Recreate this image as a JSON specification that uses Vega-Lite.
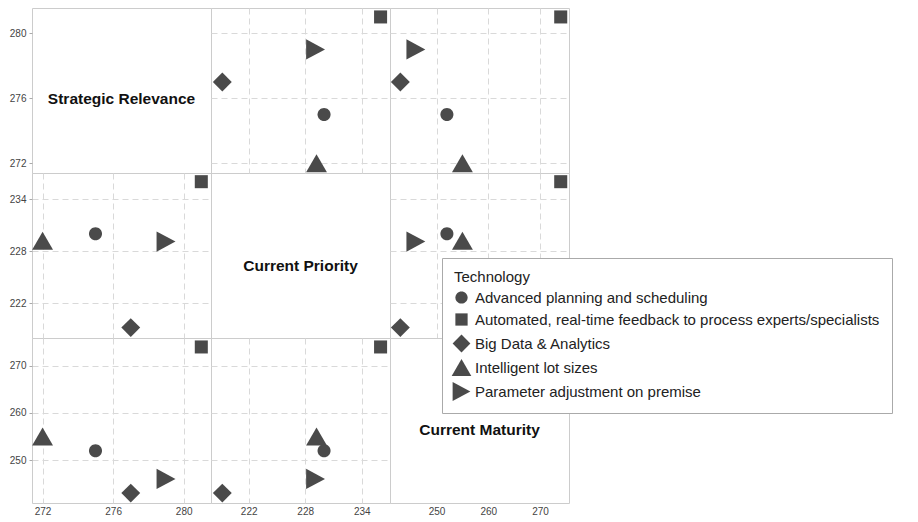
{
  "$schema": "https://vega.github.io/schema/vega-lite/v6.json",
  "padding": {"left": 8, "top": 7, "right": 0, "bottom": 0},
  "spacing": 0,
  "bounds": "flush",
  "columns": 3,
  "datasets": {
    "tech": [
      {"Technology": "Advanced planning and scheduling", "SR": 275, "CP": 230, "CM": 252},
      {"Technology": "Automated, real-time feedback to process experts/specialists", "SR": 281, "CP": 236, "CM": 274},
      {"Technology": "Big Data & Analytics", "SR": 277, "CP": 219.2, "CM": 243},
      {"Technology": "Intelligent lot sizes", "SR": 272, "CP": 229.2, "CM": 255},
      {"Technology": "Parameter adjustment on premise", "SR": 279, "CP": 229.1, "CM": 246}
    ],
    "lab1": [{"label": "Strategic Relevance"}],
    "lab2": [{"label": "Current Priority"}],
    "lab3": [{"label": "Current Maturity"}]
  },
  "config": {
    "view": {"stroke": "#cccccc", "strokeWidth": 1},
    "point": {"filled": true, "opacity": 1, "color": "#4a4a4a", "size": 170},
    "axis": {
      "domain": false,
      "title": null,
      "grid": true,
      "gridColor": "#d9d9d9",
      "gridDash": [6, 4],
      "gridWidth": 1,
      "ticks": false,
      "labels": false,
      "tickColor": "#aaaaaa",
      "tickSize": 3,
      "labelFont": "Liberation Sans",
      "labelFontSize": 10,
      "labelColor": "#444444",
      "labelPadding": 3
    },
    "legend": {
      "orient": "none",
      "legendX": 410,
      "legendY": 250,
      "strokeColor": "#aaaaaa",
      "fillColor": "white",
      "padding": 12,
      "titleFont": "Liberation Sans",
      "titleFontSize": 15,
      "titleFontWeight": "normal",
      "titleColor": "#222222",
      "titlePadding": 5,
      "labelFont": "Liberation Sans",
      "labelFontSize": 15,
      "labelColor": "#222222",
      "labelLimit": 600,
      "labelOffset": 6,
      "rowPadding": 6,
      "symbolSize": 150,
      "symbolFillColor": "#4a4a4a",
      "symbolStrokeWidth": 0
    }
  },
  "concat": [
    {
      "width": 179, "height": 165,
      "layer": [
        {
          "data": {"name": "tech"},
          "mark": {"type": "point", "opacity": 0},
          "encoding": {
            "x": {"field": "SR", "type": "quantitative", "scale": {"domain": [271.4, 281.55], "nice": false, "zero": false}, "axis": null},
            "y": {"field": "SR", "type": "quantitative", "scale": {"domain": [271.4, 281.55], "nice": false, "zero": false}, "axis": {"values": [272, 276, 280], "labels": true, "ticks": true, "grid": false}}
          }
        },
        {
          "data": {"name": "lab1"},
          "mark": {"type": "text", "font": "Liberation Sans", "fontSize": 15.5, "fontWeight": "bold", "color": "#111111", "dy": 8},
          "encoding": {"text": {"field": "label"}}
        }
      ]
    },
    {
      "width": 179, "height": 165,
      "data": {"name": "tech"},
      "mark": {"type": "point"},
      "encoding": {
        "x": {"field": "CP", "type": "quantitative", "scale": {"domain": [218, 237], "nice": false, "zero": false}, "axis": {"values": [222, 228, 234]}},
        "y": {"field": "SR", "type": "quantitative", "scale": {"domain": [271.4, 281.55], "nice": false, "zero": false}, "axis": {"values": [272, 276, 280]}},
        "shape": {"field": "Technology", "type": "nominal", "scale": {"domain": ["Advanced planning and scheduling", "Automated, real-time feedback to process experts/specialists", "Big Data & Analytics", "Intelligent lot sizes", "Parameter adjustment on premise"], "range": ["M1,0A1,1,0,1,1,-1,0A1,1,0,1,1,1,0Z", "M-1,-1H1V1H-1Z", "M-1.45,0L0,-1.45L1.45,0L0,1.45Z", "M0,-1.38L-1.6,1.38L1.6,1.38Z", "M1.45,0L-1.45,-1.55L-1.45,1.55Z"]}}
      }
    },
    {
      "width": 179, "height": 165,
      "data": {"name": "tech"},
      "mark": {"type": "point"},
      "encoding": {
        "x": {"field": "CM", "type": "quantitative", "scale": {"domain": [241, 275.6], "nice": false, "zero": false}, "axis": {"values": [250, 260, 270]}},
        "y": {"field": "SR", "type": "quantitative", "scale": {"domain": [271.4, 281.55], "nice": false, "zero": false}, "axis": {"values": [272, 276, 280]}},
        "shape": {"field": "Technology", "type": "nominal"}
      }
    },
    {
      "width": 179, "height": 165,
      "data": {"name": "tech"},
      "mark": {"type": "point"},
      "encoding": {
        "x": {"field": "SR", "type": "quantitative", "scale": {"domain": [271.4, 281.55], "nice": false, "zero": false}, "axis": {"values": [272, 276, 280]}},
        "y": {"field": "CP", "type": "quantitative", "scale": {"domain": [218, 237], "nice": false, "zero": false}, "axis": {"values": [222, 228, 234], "labels": true, "ticks": true}},
        "shape": {"field": "Technology", "type": "nominal"}
      }
    },
    {
      "width": 179, "height": 165,
      "data": {"name": "lab2"},
      "mark": {"type": "text", "font": "Liberation Sans", "fontSize": 15.5, "fontWeight": "bold", "color": "#111111", "dy": 10},
      "encoding": {"text": {"field": "label"}}
    },
    {
      "width": 179, "height": 165,
      "data": {"name": "tech"},
      "mark": {"type": "point"},
      "encoding": {
        "x": {"field": "CM", "type": "quantitative", "scale": {"domain": [241, 275.6], "nice": false, "zero": false}, "axis": {"values": [250, 260, 270]}},
        "y": {"field": "CP", "type": "quantitative", "scale": {"domain": [218, 237], "nice": false, "zero": false}, "axis": {"values": [222, 228, 234]}},
        "shape": {"field": "Technology", "type": "nominal"}
      }
    },
    {
      "width": 179, "height": 165,
      "data": {"name": "tech"},
      "mark": {"type": "point"},
      "encoding": {
        "x": {"field": "SR", "type": "quantitative", "scale": {"domain": [271.4, 281.55], "nice": false, "zero": false}, "axis": {"values": [272, 276, 280], "labels": true}},
        "y": {"field": "CM", "type": "quantitative", "scale": {"domain": [240.9, 275.9], "nice": false, "zero": false}, "axis": {"values": [250, 260, 270], "labels": true, "ticks": true}},
        "shape": {"field": "Technology", "type": "nominal"}
      }
    },
    {
      "width": 179, "height": 165,
      "data": {"name": "tech"},
      "mark": {"type": "point"},
      "encoding": {
        "x": {"field": "CP", "type": "quantitative", "scale": {"domain": [218, 237], "nice": false, "zero": false}, "axis": {"values": [222, 228, 234], "labels": true}},
        "y": {"field": "CM", "type": "quantitative", "scale": {"domain": [240.9, 275.9], "nice": false, "zero": false}, "axis": {"values": [250, 260, 270]}},
        "shape": {"field": "Technology", "type": "nominal"}
      }
    },
    {
      "width": 179, "height": 165,
      "layer": [
        {
          "data": {"name": "tech"},
          "mark": {"type": "point", "opacity": 0},
          "encoding": {
            "x": {"field": "CM", "type": "quantitative", "scale": {"domain": [241, 275.6], "nice": false, "zero": false}, "axis": {"values": [250, 260, 270], "labels": true, "grid": false}},
            "y": {"field": "CM", "type": "quantitative", "scale": {"domain": [240.9, 275.9], "nice": false, "zero": false}, "axis": null}
          }
        },
        {
          "data": {"name": "lab3"},
          "mark": {"type": "text", "font": "Liberation Sans", "fontSize": 15.5, "fontWeight": "bold", "color": "#111111", "dy": 9},
          "encoding": {"text": {"field": "label"}}
        }
      ]
    }
  ]
}
